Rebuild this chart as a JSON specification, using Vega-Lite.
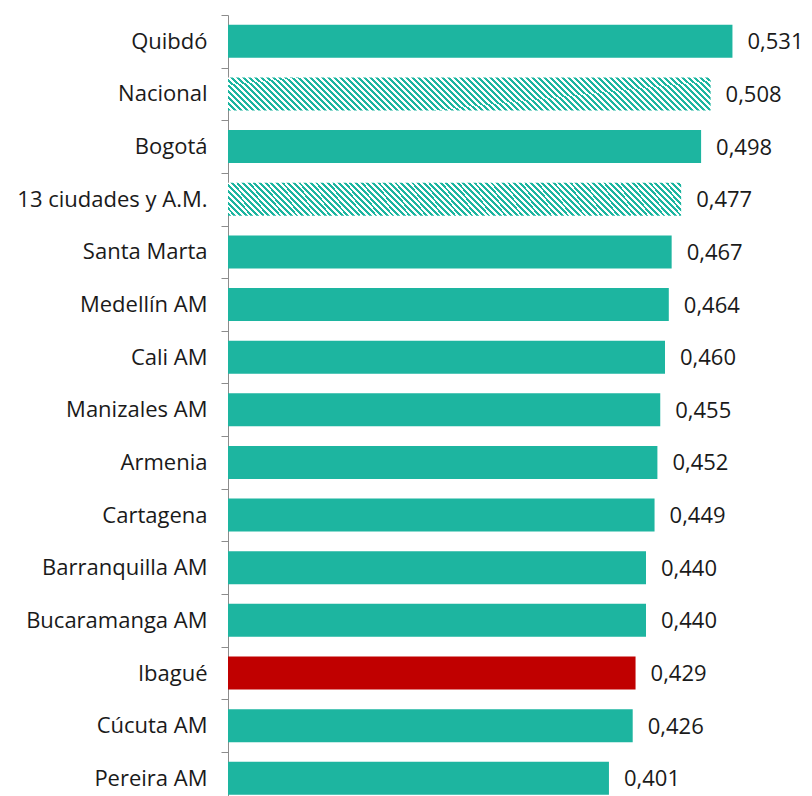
{
  "$schema": "https://vega.github.io/schema/vega-lite/v6.json",
  "autosize": "none",
  "width": 570,
  "height": 781,
  "padding": {"left": 228, "top": 15, "right": 14, "bottom": 0},
  "config": {
    "view": {"stroke": null},
    "font": "Open Sans",
    "locale": {"number": {"decimal": ",", "thousands": ".", "grouping": [3], "currency": ["$", ""]}}
  },
  "data": {
    "values": [
      {"ciudad": "Quibdó", "valor": 0.531, "tipo": "solido"},
      {"ciudad": "Nacional", "valor": 0.508, "tipo": "rayado"},
      {"ciudad": "Bogotá", "valor": 0.498, "tipo": "solido"},
      {"ciudad": "13 ciudades y A.M.", "valor": 0.477, "tipo": "rayado"},
      {"ciudad": "Santa Marta", "valor": 0.467, "tipo": "solido"},
      {"ciudad": "Medellín AM", "valor": 0.464, "tipo": "solido"},
      {"ciudad": "Cali AM", "valor": 0.460, "tipo": "solido"},
      {"ciudad": "Manizales AM", "valor": 0.455, "tipo": "solido"},
      {"ciudad": "Armenia", "valor": 0.452, "tipo": "solido"},
      {"ciudad": "Cartagena", "valor": 0.449, "tipo": "solido"},
      {"ciudad": "Barranquilla AM", "valor": 0.440, "tipo": "solido"},
      {"ciudad": "Bucaramanga AM", "valor": 0.440, "tipo": "solido"},
      {"ciudad": "Ibagué", "valor": 0.429, "tipo": "destacado"},
      {"ciudad": "Cúcuta AM", "valor": 0.426, "tipo": "solido"},
      {"ciudad": "Pereira AM", "valor": 0.401, "tipo": "solido"}
    ]
  },
  "encoding": {
    "y": {
      "field": "ciudad",
      "type": "nominal",
      "sort": null,
      "scale": {
        "domain": ["Quibdó", "Nacional", "Bogotá", "13 ciudades y A.M.", "Santa Marta", "Medellín AM", "Cali AM", "Manizales AM", "Armenia", "Cartagena", "Barranquilla AM", "Bucaramanga AM", "Ibagué", "Cúcuta AM", "Pereira AM"],
        "range": [0, 789.6],
        "paddingInner": 0.373,
        "paddingOuter": 0.1865
      },
      "axis": {
        "title": null,
        "domainColor": "#8c8c8c",
        "tickColor": "#8c8c8c",
        "tickSize": 7,
        "labelFontSize": 22,
        "labelFont": "Open Sans",
        "labelColor": "#1a1a1a",
        "labelPadding": 14,
        "labelLimit": 400,
        "tickOffset": -26.32,
        "labelOffset": 26.32
      }
    },
    "x": {"field": "valor", "type": "quantitative", "scale": {"domain": [0, 0.6]}, "axis": null}
  },
  "layer": [
    {
      "transform": [{"filter": "datum.tipo != 'rayado'"}],
      "mark": {"type": "bar"},
      "encoding": {
        "color": {"field": "tipo", "type": "nominal", "scale": {"domain": ["solido", "destacado"], "range": ["#1db5a0", "#c00000"]}, "legend": null}
      }
    },
    {
      "transform": [{"filter": "datum.tipo == 'rayado'"}],
      "mark": {
        "type": "bar",
        "color": {
          "gradient": "linear",
          "x1": 0, "y1": 1, "x2": 1.24, "y2": 0.9132,
          "stops": [
{"offset":0,"color":"#1db5a0"},{"offset":0.005,"color":"#1db5a0"},{"offset":0.005,"color":"#fff"},{"offset":0.01,"color":"#fff"},
{"offset":0.01,"color":"#1db5a0"},{"offset":0.015,"color":"#1db5a0"},{"offset":0.015,"color":"#fff"},{"offset":0.02,"color":"#fff"},
{"offset":0.02,"color":"#1db5a0"},{"offset":0.025,"color":"#1db5a0"},{"offset":0.025,"color":"#fff"},{"offset":0.03,"color":"#fff"},
{"offset":0.03,"color":"#1db5a0"},{"offset":0.035,"color":"#1db5a0"},{"offset":0.035,"color":"#fff"},{"offset":0.04,"color":"#fff"},
{"offset":0.04,"color":"#1db5a0"},{"offset":0.045,"color":"#1db5a0"},{"offset":0.045,"color":"#fff"},{"offset":0.05,"color":"#fff"},
{"offset":0.05,"color":"#1db5a0"},{"offset":0.055,"color":"#1db5a0"},{"offset":0.055,"color":"#fff"},{"offset":0.06,"color":"#fff"},
{"offset":0.06,"color":"#1db5a0"},{"offset":0.065,"color":"#1db5a0"},{"offset":0.065,"color":"#fff"},{"offset":0.07,"color":"#fff"},
{"offset":0.07,"color":"#1db5a0"},{"offset":0.075,"color":"#1db5a0"},{"offset":0.075,"color":"#fff"},{"offset":0.08,"color":"#fff"},
{"offset":0.08,"color":"#1db5a0"},{"offset":0.085,"color":"#1db5a0"},{"offset":0.085,"color":"#fff"},{"offset":0.09,"color":"#fff"},
{"offset":0.09,"color":"#1db5a0"},{"offset":0.095,"color":"#1db5a0"},{"offset":0.095,"color":"#fff"},{"offset":0.1,"color":"#fff"},
{"offset":0.1,"color":"#1db5a0"},{"offset":0.105,"color":"#1db5a0"},{"offset":0.105,"color":"#fff"},{"offset":0.11,"color":"#fff"},
{"offset":0.11,"color":"#1db5a0"},{"offset":0.115,"color":"#1db5a0"},{"offset":0.115,"color":"#fff"},{"offset":0.12,"color":"#fff"},
{"offset":0.12,"color":"#1db5a0"},{"offset":0.125,"color":"#1db5a0"},{"offset":0.125,"color":"#fff"},{"offset":0.13,"color":"#fff"},
{"offset":0.13,"color":"#1db5a0"},{"offset":0.135,"color":"#1db5a0"},{"offset":0.135,"color":"#fff"},{"offset":0.14,"color":"#fff"},
{"offset":0.14,"color":"#1db5a0"},{"offset":0.145,"color":"#1db5a0"},{"offset":0.145,"color":"#fff"},{"offset":0.15,"color":"#fff"},
{"offset":0.15,"color":"#1db5a0"},{"offset":0.155,"color":"#1db5a0"},{"offset":0.155,"color":"#fff"},{"offset":0.16,"color":"#fff"},
{"offset":0.16,"color":"#1db5a0"},{"offset":0.165,"color":"#1db5a0"},{"offset":0.165,"color":"#fff"},{"offset":0.17,"color":"#fff"},
{"offset":0.17,"color":"#1db5a0"},{"offset":0.175,"color":"#1db5a0"},{"offset":0.175,"color":"#fff"},{"offset":0.18,"color":"#fff"},
{"offset":0.18,"color":"#1db5a0"},{"offset":0.185,"color":"#1db5a0"},{"offset":0.185,"color":"#fff"},{"offset":0.19,"color":"#fff"},
{"offset":0.19,"color":"#1db5a0"},{"offset":0.195,"color":"#1db5a0"},{"offset":0.195,"color":"#fff"},{"offset":0.2,"color":"#fff"},
{"offset":0.2,"color":"#1db5a0"},{"offset":0.205,"color":"#1db5a0"},{"offset":0.205,"color":"#fff"},{"offset":0.21,"color":"#fff"},
{"offset":0.21,"color":"#1db5a0"},{"offset":0.215,"color":"#1db5a0"},{"offset":0.215,"color":"#fff"},{"offset":0.22,"color":"#fff"},
{"offset":0.22,"color":"#1db5a0"},{"offset":0.225,"color":"#1db5a0"},{"offset":0.225,"color":"#fff"},{"offset":0.23,"color":"#fff"},
{"offset":0.23,"color":"#1db5a0"},{"offset":0.235,"color":"#1db5a0"},{"offset":0.235,"color":"#fff"},{"offset":0.24,"color":"#fff"},
{"offset":0.24,"color":"#1db5a0"},{"offset":0.245,"color":"#1db5a0"},{"offset":0.245,"color":"#fff"},{"offset":0.25,"color":"#fff"},
{"offset":0.25,"color":"#1db5a0"},{"offset":0.255,"color":"#1db5a0"},{"offset":0.255,"color":"#fff"},{"offset":0.26,"color":"#fff"},
{"offset":0.26,"color":"#1db5a0"},{"offset":0.265,"color":"#1db5a0"},{"offset":0.265,"color":"#fff"},{"offset":0.27,"color":"#fff"},
{"offset":0.27,"color":"#1db5a0"},{"offset":0.275,"color":"#1db5a0"},{"offset":0.275,"color":"#fff"},{"offset":0.28,"color":"#fff"},
{"offset":0.28,"color":"#1db5a0"},{"offset":0.285,"color":"#1db5a0"},{"offset":0.285,"color":"#fff"},{"offset":0.29,"color":"#fff"},
{"offset":0.29,"color":"#1db5a0"},{"offset":0.295,"color":"#1db5a0"},{"offset":0.295,"color":"#fff"},{"offset":0.3,"color":"#fff"},
{"offset":0.3,"color":"#1db5a0"},{"offset":0.305,"color":"#1db5a0"},{"offset":0.305,"color":"#fff"},{"offset":0.31,"color":"#fff"},
{"offset":0.31,"color":"#1db5a0"},{"offset":0.315,"color":"#1db5a0"},{"offset":0.315,"color":"#fff"},{"offset":0.32,"color":"#fff"},
{"offset":0.32,"color":"#1db5a0"},{"offset":0.325,"color":"#1db5a0"},{"offset":0.325,"color":"#fff"},{"offset":0.33,"color":"#fff"},
{"offset":0.33,"color":"#1db5a0"},{"offset":0.335,"color":"#1db5a0"},{"offset":0.335,"color":"#fff"},{"offset":0.34,"color":"#fff"},
{"offset":0.34,"color":"#1db5a0"},{"offset":0.345,"color":"#1db5a0"},{"offset":0.345,"color":"#fff"},{"offset":0.35,"color":"#fff"},
{"offset":0.35,"color":"#1db5a0"},{"offset":0.355,"color":"#1db5a0"},{"offset":0.355,"color":"#fff"},{"offset":0.36,"color":"#fff"},
{"offset":0.36,"color":"#1db5a0"},{"offset":0.365,"color":"#1db5a0"},{"offset":0.365,"color":"#fff"},{"offset":0.37,"color":"#fff"},
{"offset":0.37,"color":"#1db5a0"},{"offset":0.375,"color":"#1db5a0"},{"offset":0.375,"color":"#fff"},{"offset":0.38,"color":"#fff"},
{"offset":0.38,"color":"#1db5a0"},{"offset":0.385,"color":"#1db5a0"},{"offset":0.385,"color":"#fff"},{"offset":0.39,"color":"#fff"},
{"offset":0.39,"color":"#1db5a0"},{"offset":0.395,"color":"#1db5a0"},{"offset":0.395,"color":"#fff"},{"offset":0.4,"color":"#fff"},
{"offset":0.4,"color":"#1db5a0"},{"offset":0.405,"color":"#1db5a0"},{"offset":0.405,"color":"#fff"},{"offset":0.41,"color":"#fff"},
{"offset":0.41,"color":"#1db5a0"},{"offset":0.415,"color":"#1db5a0"},{"offset":0.415,"color":"#fff"},{"offset":0.42,"color":"#fff"},
{"offset":0.42,"color":"#1db5a0"},{"offset":0.425,"color":"#1db5a0"},{"offset":0.425,"color":"#fff"},{"offset":0.43,"color":"#fff"},
{"offset":0.43,"color":"#1db5a0"},{"offset":0.435,"color":"#1db5a0"},{"offset":0.435,"color":"#fff"},{"offset":0.44,"color":"#fff"},
{"offset":0.44,"color":"#1db5a0"},{"offset":0.445,"color":"#1db5a0"},{"offset":0.445,"color":"#fff"},{"offset":0.45,"color":"#fff"},
{"offset":0.45,"color":"#1db5a0"},{"offset":0.455,"color":"#1db5a0"},{"offset":0.455,"color":"#fff"},{"offset":0.46,"color":"#fff"},
{"offset":0.46,"color":"#1db5a0"},{"offset":0.465,"color":"#1db5a0"},{"offset":0.465,"color":"#fff"},{"offset":0.47,"color":"#fff"},
{"offset":0.47,"color":"#1db5a0"},{"offset":0.475,"color":"#1db5a0"},{"offset":0.475,"color":"#fff"},{"offset":0.48,"color":"#fff"},
{"offset":0.48,"color":"#1db5a0"},{"offset":0.485,"color":"#1db5a0"},{"offset":0.485,"color":"#fff"},{"offset":0.49,"color":"#fff"},
{"offset":0.49,"color":"#1db5a0"},{"offset":0.495,"color":"#1db5a0"},{"offset":0.495,"color":"#fff"},{"offset":0.5,"color":"#fff"},
{"offset":0.5,"color":"#1db5a0"},{"offset":0.505,"color":"#1db5a0"},{"offset":0.505,"color":"#fff"},{"offset":0.51,"color":"#fff"},
{"offset":0.51,"color":"#1db5a0"},{"offset":0.515,"color":"#1db5a0"},{"offset":0.515,"color":"#fff"},{"offset":0.52,"color":"#fff"},
{"offset":0.52,"color":"#1db5a0"},{"offset":0.525,"color":"#1db5a0"},{"offset":0.525,"color":"#fff"},{"offset":0.53,"color":"#fff"},
{"offset":0.53,"color":"#1db5a0"},{"offset":0.535,"color":"#1db5a0"},{"offset":0.535,"color":"#fff"},{"offset":0.54,"color":"#fff"},
{"offset":0.54,"color":"#1db5a0"},{"offset":0.545,"color":"#1db5a0"},{"offset":0.545,"color":"#fff"},{"offset":0.55,"color":"#fff"},
{"offset":0.55,"color":"#1db5a0"},{"offset":0.555,"color":"#1db5a0"},{"offset":0.555,"color":"#fff"},{"offset":0.56,"color":"#fff"},
{"offset":0.56,"color":"#1db5a0"},{"offset":0.565,"color":"#1db5a0"},{"offset":0.565,"color":"#fff"},{"offset":0.57,"color":"#fff"},
{"offset":0.57,"color":"#1db5a0"},{"offset":0.575,"color":"#1db5a0"},{"offset":0.575,"color":"#fff"},{"offset":0.58,"color":"#fff"},
{"offset":0.58,"color":"#1db5a0"},{"offset":0.585,"color":"#1db5a0"},{"offset":0.585,"color":"#fff"},{"offset":0.59,"color":"#fff"},
{"offset":0.59,"color":"#1db5a0"},{"offset":0.595,"color":"#1db5a0"},{"offset":0.595,"color":"#fff"},{"offset":0.6,"color":"#fff"},
{"offset":0.6,"color":"#1db5a0"},{"offset":0.605,"color":"#1db5a0"},{"offset":0.605,"color":"#fff"},{"offset":0.61,"color":"#fff"},
{"offset":0.61,"color":"#1db5a0"},{"offset":0.615,"color":"#1db5a0"},{"offset":0.615,"color":"#fff"},{"offset":0.62,"color":"#fff"},
{"offset":0.62,"color":"#1db5a0"},{"offset":0.625,"color":"#1db5a0"},{"offset":0.625,"color":"#fff"},{"offset":0.63,"color":"#fff"},
{"offset":0.63,"color":"#1db5a0"},{"offset":0.635,"color":"#1db5a0"},{"offset":0.635,"color":"#fff"},{"offset":0.64,"color":"#fff"},
{"offset":0.64,"color":"#1db5a0"},{"offset":0.645,"color":"#1db5a0"},{"offset":0.645,"color":"#fff"},{"offset":0.65,"color":"#fff"},
{"offset":0.65,"color":"#1db5a0"},{"offset":0.655,"color":"#1db5a0"},{"offset":0.655,"color":"#fff"},{"offset":0.66,"color":"#fff"},
{"offset":0.66,"color":"#1db5a0"},{"offset":0.665,"color":"#1db5a0"},{"offset":0.665,"color":"#fff"},{"offset":0.67,"color":"#fff"},
{"offset":0.67,"color":"#1db5a0"},{"offset":0.675,"color":"#1db5a0"},{"offset":0.675,"color":"#fff"},{"offset":0.68,"color":"#fff"},
{"offset":0.68,"color":"#1db5a0"},{"offset":0.685,"color":"#1db5a0"},{"offset":0.685,"color":"#fff"},{"offset":0.69,"color":"#fff"},
{"offset":0.69,"color":"#1db5a0"},{"offset":0.695,"color":"#1db5a0"},{"offset":0.695,"color":"#fff"},{"offset":0.7,"color":"#fff"},
{"offset":0.7,"color":"#1db5a0"},{"offset":0.705,"color":"#1db5a0"},{"offset":0.705,"color":"#fff"},{"offset":0.71,"color":"#fff"},
{"offset":0.71,"color":"#1db5a0"},{"offset":0.715,"color":"#1db5a0"},{"offset":0.715,"color":"#fff"},{"offset":0.72,"color":"#fff"},
{"offset":0.72,"color":"#1db5a0"},{"offset":0.725,"color":"#1db5a0"},{"offset":0.725,"color":"#fff"},{"offset":0.73,"color":"#fff"},
{"offset":0.73,"color":"#1db5a0"},{"offset":0.735,"color":"#1db5a0"},{"offset":0.735,"color":"#fff"},{"offset":0.74,"color":"#fff"},
{"offset":0.74,"color":"#1db5a0"},{"offset":0.745,"color":"#1db5a0"},{"offset":0.745,"color":"#fff"},{"offset":0.75,"color":"#fff"},
{"offset":0.75,"color":"#1db5a0"},{"offset":0.755,"color":"#1db5a0"},{"offset":0.755,"color":"#fff"},{"offset":0.76,"color":"#fff"},
{"offset":0.76,"color":"#1db5a0"},{"offset":0.765,"color":"#1db5a0"},{"offset":0.765,"color":"#fff"},{"offset":0.77,"color":"#fff"},
{"offset":0.77,"color":"#1db5a0"},{"offset":0.775,"color":"#1db5a0"},{"offset":0.775,"color":"#fff"},{"offset":0.78,"color":"#fff"},
{"offset":0.78,"color":"#1db5a0"},{"offset":0.785,"color":"#1db5a0"},{"offset":0.785,"color":"#fff"},{"offset":0.79,"color":"#fff"},
{"offset":0.79,"color":"#1db5a0"},{"offset":0.795,"color":"#1db5a0"},{"offset":0.795,"color":"#fff"},{"offset":0.8,"color":"#fff"},
{"offset":0.8,"color":"#1db5a0"},{"offset":0.805,"color":"#1db5a0"},{"offset":0.805,"color":"#fff"},{"offset":0.81,"color":"#fff"},
{"offset":0.81,"color":"#1db5a0"},{"offset":0.815,"color":"#1db5a0"},{"offset":0.815,"color":"#fff"},{"offset":0.82,"color":"#fff"},
{"offset":0.82,"color":"#1db5a0"},{"offset":0.825,"color":"#1db5a0"},{"offset":0.825,"color":"#fff"},{"offset":0.83,"color":"#fff"},
{"offset":0.83,"color":"#1db5a0"},{"offset":0.835,"color":"#1db5a0"},{"offset":0.835,"color":"#fff"},{"offset":0.84,"color":"#fff"},
{"offset":0.84,"color":"#1db5a0"},{"offset":0.845,"color":"#1db5a0"},{"offset":0.845,"color":"#fff"},{"offset":0.85,"color":"#fff"},
{"offset":0.85,"color":"#1db5a0"},{"offset":0.855,"color":"#1db5a0"},{"offset":0.855,"color":"#fff"},{"offset":0.86,"color":"#fff"},
{"offset":0.86,"color":"#1db5a0"},{"offset":0.865,"color":"#1db5a0"},{"offset":0.865,"color":"#fff"},{"offset":0.87,"color":"#fff"}
          ]
        }
      }
    },
    {
      "mark": {"type": "text", "align": "left", "baseline": "middle", "dx": 15, "dy": 1, "fontSize": 22, "font": "Open Sans", "color": "#1a1a1a"},
      "encoding": {
        "text": {"field": "valor", "type": "quantitative", "format": ".3f"}
      }
    }
  ]
}
